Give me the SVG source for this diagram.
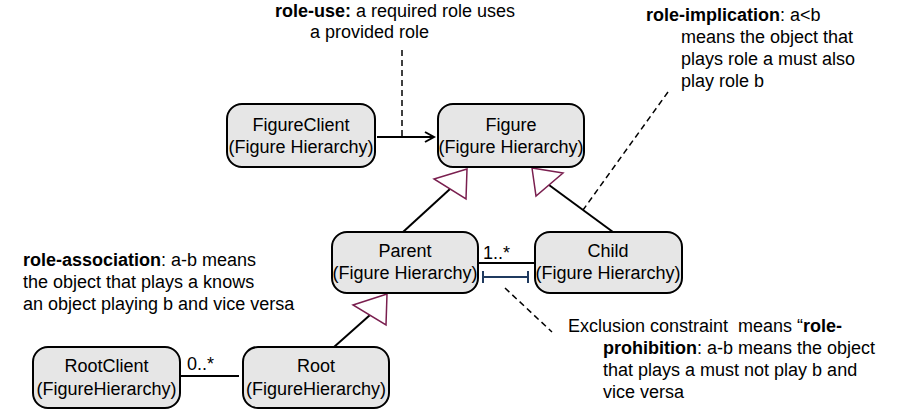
<svg xmlns="http://www.w3.org/2000/svg" width="903" height="419" viewBox="0 0 903 419">
<defs>
<style>
text{font-family:"Liberation Sans",Arial,sans-serif;font-size:18px;fill:#000}
.node rect{fill:#e6e6e6;stroke:#000;stroke-width:2}
.node text{text-anchor:middle}
.b{font-weight:bold}
.ln{stroke:#000;stroke-width:2;fill:none}
.dash{stroke:#000;stroke-width:1.5;fill:none;stroke-dasharray:6,4}
.gen{fill:#fff;stroke:#7a1f4f;stroke-width:1.5}
.exc{stroke:#1f3a5f;stroke-width:2;fill:none}
</style>
<marker id="arr" markerWidth="12" markerHeight="12" refX="10" refY="6" orient="auto" markerUnits="userSpaceOnUse">
<path d="M1,1 L10,6 L1,11" fill="none" stroke="#000" stroke-width="2"/>
</marker>
</defs>
<g id="connectors">
<line class="ln" x1="377" y1="137" x2="434" y2="137" marker-end="url(#arr)"/>
<line class="dash" x1="402" y1="50" x2="402" y2="137"/>
<line class="ln" x1="403" y1="232" x2="450" y2="189"/>
<polygon class="gen" points="467,169 434,179 466,199"/>
<line class="ln" x1="613" y1="232" x2="549" y2="185"/>
<polygon class="gen" points="532,168 563,173 536,196"/>
<line class="dash" x1="668" y1="92" x2="583" y2="210"/>
<line class="ln" x1="478" y1="263" x2="535" y2="263"/>
<text x="483" y="259">1..*</text>
<line class="exc" x1="483" y1="277" x2="528" y2="277"/>
<line class="exc" x1="483" y1="271" x2="483" y2="283"/>
<line class="exc" x1="528" y1="271" x2="528" y2="283"/>
<line class="dash" x1="505" y1="288" x2="552" y2="332"/>
<line class="ln" x1="181" y1="376" x2="239" y2="376"/>
<text x="187" y="370">0..*</text>
<line class="ln" x1="334" y1="347" x2="370" y2="315"/>
<polygon class="gen" points="387,294 353,305 386,325"/>
</g>
<g id="FigureClient" class="node">
<rect x="227" y="104" width="148" height="63" rx="15"/>
<text x="301" y="131">FigureClient</text>
<text x="301" y="153">(Figure Hierarchy)</text>
</g>
<g id="Figure" class="node">
<rect x="438" y="104" width="146" height="63" rx="15"/>
<text x="511" y="131">Figure</text>
<text x="511" y="153">(Figure Hierarchy)</text>
</g>
<g id="Parent" class="node">
<rect x="332" y="232" width="146" height="61" rx="15"/>
<text x="405" y="257">Parent</text>
<text x="405" y="279">(Figure Hierarchy)</text>
</g>
<g id="Child" class="node">
<rect x="535" y="232" width="147" height="61" rx="15"/>
<text x="608" y="257">Child</text>
<text x="608" y="279">(Figure Hierarchy)</text>
</g>
<g id="RootClient" class="node">
<rect x="33" y="347" width="147" height="61" rx="15"/>
<text x="106.5" y="372">RootClient</text>
<text x="106.5" y="395">(FigureHierarchy)</text>
</g>
<g id="Root" class="node">
<rect x="243" y="347" width="146" height="61" rx="15"/>
<text x="316" y="372">Root</text>
<text x="316" y="395">(FigureHierarchy)</text>
</g>
<g id="notes">
<text x="275" y="17"><tspan class="b">role-use:</tspan> a required role uses</text>
<text x="310" y="38">a provided role</text>
<text x="646" y="21"><tspan class="b">role-implication</tspan>: a&lt;b</text>
<text x="681" y="43">means the object that</text>
<text x="681" y="65">plays role a must also</text>
<text x="681" y="87">play role b</text>
<text x="23" y="266"><tspan class="b">role-association</tspan>: a-b means</text>
<text x="23" y="288">the object that plays a knows</text>
<text x="23" y="310">an object playing b and vice versa</text>
<text x="568" y="332">Exclusion constraint&#160; means “<tspan class="b">role-</tspan></text>
<text x="603" y="354"><tspan class="b">prohibition</tspan>: a-b means the object</text>
<text x="603" y="376">that plays a must not play b and</text>
<text x="603" y="398">vice versa</text>
</g>
</svg>
